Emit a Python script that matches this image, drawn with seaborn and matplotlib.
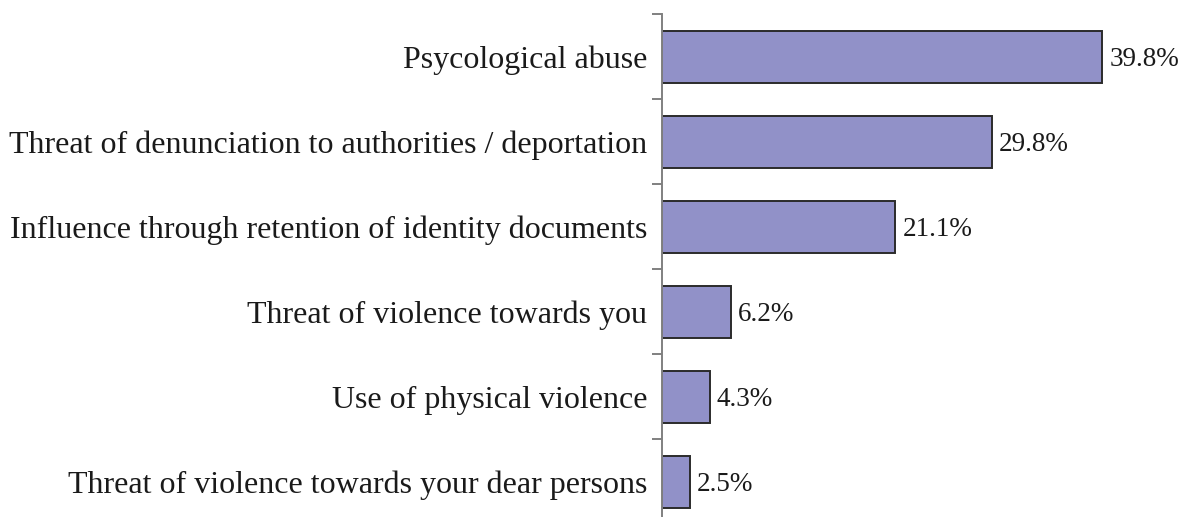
import matplotlib
matplotlib.use("Agg")
import matplotlib.pyplot as plt
import seaborn as sns
import pandas as pd
import numpy as np

categories = [
    "Psycological abuse",
    "Threat of denunciation to authorities / deportation",
    "Influence through retention of identity documents",
    "Threat of violence towards you",
    "Use of physical violence",
    "Threat of violence towards your dear persons",
]
values = [39.8, 29.8, 21.1, 6.2, 4.3, 2.5]
value_labels = ["39.8%", "29.8%", "21.1%", "6.2%", "4.3%", "2.5%"]

sns.set_theme(style="white")
plt.rcParams["font.family"] = ["Liberation Serif", "DejaVu Serif"]

df = pd.DataFrame({"category": categories, "value": values})

fig = plt.figure(figsize=(11.8, 5.17), dpi=100)
ax = fig.add_axes([0.561, -0.0143, 0.4218, 0.9865])

sns.barplot(data=df, x="value", y="category", orient="h", color="#9191c8",
            saturation=1, width=0.62, edgecolor="#2b2b2b", linewidth=1.4, ax=ax)

ax.set_xlim(0, 45)
ax.set_ylim(len(categories) - 0.5, -0.5)
ax.set_xlabel("")
ax.set_ylabel("")
ax.set_xticks([])

for s in ["top", "right", "bottom"]:
    ax.spines[s].set_visible(False)
ax.spines["left"].set_color("#808080")
ax.spines["left"].set_linewidth(1.4)

# category labels centred on bars; tick marks between categories
ax.tick_params(axis="y", which="major", length=0, pad=10.5, labelsize=23, labelcolor="#1a1a1a")
ax.set_yticks(np.arange(len(categories) + 1) - 0.5, minor=True)
ax.tick_params(axis="y", which="minor", length=7, width=1.4, color="#808080", left=True)

for i, (v, lab) in enumerate(zip(values, value_labels)):
    ax.text(v + 0.65, i + 0.03, lab, va="center", ha="left", fontsize=19.5, color="#1a1a1a")

fig.savefig("out.png", dpi=100)
